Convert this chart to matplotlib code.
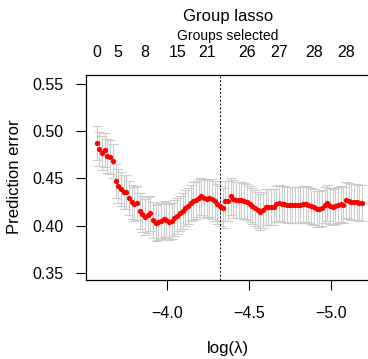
import numpy as np
import matplotlib
matplotlib.use("Agg")
import matplotlib.pyplot as plt

plt.rcParams["font.family"] = ["Liberation Sans", "DejaVu Sans"]

# lambda grid (log scale, evenly spaced as in grpreg)
log_lam_start = -3.575
log_lam_end = -5.187
n_lambda = 100

# cross-validated prediction error per lambda
cve = [
    0.488, 0.481, 0.477, 0.480, 0.474, 0.473, 0.468, 0.447, 0.442, 0.439,
    0.436, 0.436, 0.429, 0.425, 0.423, 0.424, 0.416, 0.412, 0.409, 0.411,
    0.413, 0.406, 0.403, 0.404, 0.405, 0.407, 0.406, 0.404, 0.405, 0.408,
    0.410, 0.413, 0.416, 0.419, 0.421, 0.424, 0.426, 0.427, 0.429, 0.431,
    0.429, 0.428, 0.429, 0.428, 0.426, 0.423, 0.421, 0.419, 0.426, 0.426,
    0.431, 0.428, 0.427, 0.427, 0.427, 0.426, 0.425, 0.423, 0.421, 0.419,
    0.417, 0.415, 0.417, 0.420, 0.420, 0.420, 0.420, 0.423, 0.424, 0.423,
    0.423, 0.422, 0.422, 0.422, 0.422, 0.422, 0.422, 0.423, 0.423, 0.422,
    0.421, 0.420, 0.418, 0.418, 0.419, 0.422, 0.424, 0.421, 0.420, 0.421,
    0.422, 0.423, 0.422, 0.427, 0.426, 0.425, 0.425, 0.425, 0.424, 0.424,
]

# standard error of the cv error
cvse = [
    0.018, 0.018, 0.018, 0.018, 0.018, 0.018, 0.018, 0.018, 0.018, 0.018,
    0.018, 0.018, 0.018, 0.018, 0.018, 0.018, 0.019, 0.019, 0.019, 0.019,
    0.019, 0.019, 0.019, 0.019, 0.019, 0.019, 0.019, 0.019, 0.019, 0.019,
    0.019, 0.019, 0.019, 0.019, 0.019, 0.019, 0.020, 0.020, 0.020, 0.020,
    0.020, 0.020, 0.020, 0.021, 0.021, 0.021, 0.021, 0.021, 0.021, 0.021,
    0.020, 0.020, 0.019, 0.019, 0.019, 0.019, 0.019, 0.019, 0.019, 0.019,
    0.019, 0.019, 0.019, 0.019, 0.019, 0.019, 0.019, 0.019, 0.019, 0.019,
    0.019, 0.019, 0.019, 0.019, 0.019, 0.019, 0.019, 0.019, 0.019, 0.019,
    0.019, 0.019, 0.019, 0.019, 0.019, 0.019, 0.019, 0.019, 0.019, 0.019,
    0.019, 0.019, 0.019, 0.019, 0.019, 0.019, 0.019, 0.019, 0.019, 0.019,
]

# groups selected labels shown on top axis (R drops overlapping ones)
top_idx = [0, 8, 18, 30, 41, 56, 68, 81, 93]
top_labels = ["0", "5", "8", "15", "21", "26", "27", "28", "28"]

sel_idx = 46

xticks = [-4.0, -4.5, -5.0]
xtick_labels = ["\u22124.0", "\u22124.5", "\u22125.0"]
yticks = [0.35, 0.40, 0.45, 0.50, 0.55]
ytick_labels = ["0.35", "0.40", "0.45", "0.50", "0.55"]


def main():
    log_lam = np.linspace(log_lam_start, log_lam_end, n_lambda)
    y = np.array(cve)
    se = np.array(cvse)

    W, H = 368, 359
    fig = plt.figure(figsize=(W / 100, H / 100), dpi=100)
    left, right, top, bottom = 86, 372.5, 75, 280
    ax = fig.add_axes([left / W, 1 - bottom / H, (right - left) / W,
                       (bottom - top) / H])

    ax.errorbar(log_lam, y, yerr=se, fmt="none", ecolor="#cccccc",
                elinewidth=0.8, capsize=3.3, capthick=0.8, zorder=1)
    ax.plot(log_lam, y, "o", color="#ff0000", markersize=3.8,
            markeredgewidth=0, zorder=3)
    ax.axvline(log_lam[sel_idx], color="black", linewidth=0.7,
               linestyle=(0, (2, 2)), zorder=2)

    ax.set_xlim(-3.5097, -5.2503)
    ax.set_ylim(0.3426, 0.5595)
    ax.set_xticks(xticks)
    ax.set_xticklabels(xtick_labels)
    ax.set_yticks(yticks)
    ax.set_yticklabels(ytick_labels)
    ax.tick_params(axis="both", direction="out", length=7, width=0.8,
                   labelsize=11.5)
    ax.tick_params(axis="x", pad=12)
    ax.tick_params(axis="y", pad=9)
    for s in ax.spines.values():
        s.set_linewidth(0.8)

    ax2 = ax.twiny()
    ax2.set_xlim(ax.get_xlim())
    ax2.set_xticks(log_lam[top_idx])
    ax2.set_xticklabels(top_labels)
    ax2.tick_params(axis="x", length=0, pad=11, labelsize=11.5)

    fig.text(228 / W, 1 - 16 / H, "Group lasso", ha="center", va="center",
             fontsize=12)
    fig.text(228 / W, 1 - 36 / H, "Groups selected", ha="center",
             va="center", fontsize=10)
    fig.text(15 / W, 1 - 177 / H, "Prediction error", ha="center",
             va="center", rotation=90, fontsize=12)
    fig.text(228 / W, 1 - 348 / H, "log(\u03bb)", ha="center", va="center",
             fontsize=12)

    fig.savefig("out.png", dpi=100)


if __name__ == '__main__':
    main()
